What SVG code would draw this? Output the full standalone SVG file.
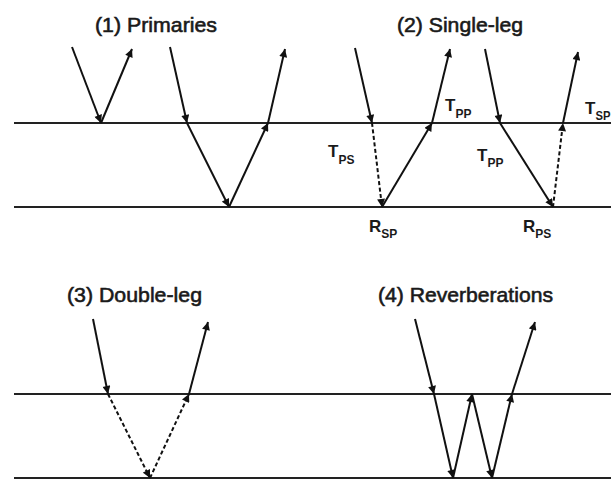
<svg xmlns="http://www.w3.org/2000/svg" width="611" height="480" viewBox="0 0 611 480">
<defs>
<marker id="ah" viewBox="0 0 10 10" refX="10" refY="5" markerWidth="9" markerHeight="8" markerUnits="userSpaceOnUse" orient="auto">
<path d="M0,0 L10,5 L0,10 z" fill="#111"/>
</marker>
<style>
.bd{stroke:#222;stroke-width:2;fill:none}
.ray{stroke:#111;stroke-width:2;fill:none;marker-end:url(#ah)}
.dash{stroke-dasharray:4 2.5}
.title{font-family:"Liberation Sans",Arial,sans-serif;font-size:21px;fill:#1a1a1a;stroke:#1a1a1a;stroke-width:0.6}
.lbl{font-family:"Liberation Sans",Arial,sans-serif;font-size:17px;font-weight:bold;fill:#1a1a1a}
.sub{font-size:12px}
</style>
</defs>
<rect width="611" height="480" fill="#fff"/>
<g id="boundaries">
<line class="bd" x1="14" y1="123" x2="611" y2="123"/>
<line class="bd" x1="14" y1="207" x2="611" y2="207"/>
<line class="bd" x1="14" y1="394" x2="611" y2="394"/>
<line class="bd" x1="14" y1="478" x2="611" y2="478"/>
</g>
<g id="panel1">
<text class="title" x="95" y="32" textLength="122" lengthAdjust="spacingAndGlyphs">(1) Primaries</text>
<path class="ray" d="M72,47 L101,123"/>
<path class="ray" d="M101,123 L132,49"/>
<path class="ray" d="M170,47 L187,123"/>
<path class="ray" d="M187,123 L229,207"/>
<path class="ray" d="M229,207 L268,123"/>
<path class="ray" d="M268,123 L285,49"/>
</g>
<g id="panel2">
<text class="title" x="397" y="32" textLength="126" lengthAdjust="spacingAndGlyphs">(2) Single-leg</text>
<path class="ray" d="M355,48 L372,123"/>
<path class="ray dash" d="M372,123 L382,207"/>
<path class="ray" d="M382,207 L432,123"/>
<path class="ray" d="M432,123 L450,49"/>
<path class="ray" d="M485,49 L500,123"/>
<path class="ray" d="M500,123 L553,207"/>
<path class="ray dash" d="M553,207 L563,123"/>
<path class="ray" d="M563,123 L578,52"/>
<text class="lbl" x="328" y="157">T<tspan class="sub" dy="7" textLength="16" lengthAdjust="spacingAndGlyphs">PS</tspan></text>
<text class="lbl" x="445" y="111">T<tspan class="sub" dy="7" textLength="16" lengthAdjust="spacingAndGlyphs">PP</tspan></text>
<text class="lbl" x="477" y="161">T<tspan class="sub" dy="6" textLength="16" lengthAdjust="spacingAndGlyphs">PP</tspan></text>
<text class="lbl" x="585" y="114">T<tspan class="sub" dy="6" textLength="15" lengthAdjust="spacingAndGlyphs">SP</tspan></text>
<text class="lbl" x="369" y="232">R<tspan class="sub" dy="6" textLength="16" lengthAdjust="spacingAndGlyphs">SP</tspan></text>
<text class="lbl" x="523" y="232">R<tspan class="sub" dy="6" textLength="16" lengthAdjust="spacingAndGlyphs">PS</tspan></text>
</g>
<g id="panel3">
<text class="title" x="67" y="302" textLength="135" lengthAdjust="spacingAndGlyphs">(3) Double-leg</text>
<path class="ray" d="M93,319 L108,394"/>
<path class="ray dash" d="M108,394 L150,478"/>
<path class="ray dash" d="M150,478 L189,394"/>
<path class="ray" d="M189,394 L208,322"/>
</g>
<g id="panel4">
<text class="title" x="378" y="302" textLength="175" lengthAdjust="spacingAndGlyphs">(4) Reverberations</text>
<path class="ray" d="M415,319 L434,394"/>
<path class="ray" d="M434,394 L453,478"/>
<path class="ray" d="M453,478 L472,394"/>
<path class="ray" d="M472,394 L492,478"/>
<path class="ray" d="M492,478 L512,394"/>
<path class="ray" d="M512,394 L535,322"/>
</g>
</svg>
